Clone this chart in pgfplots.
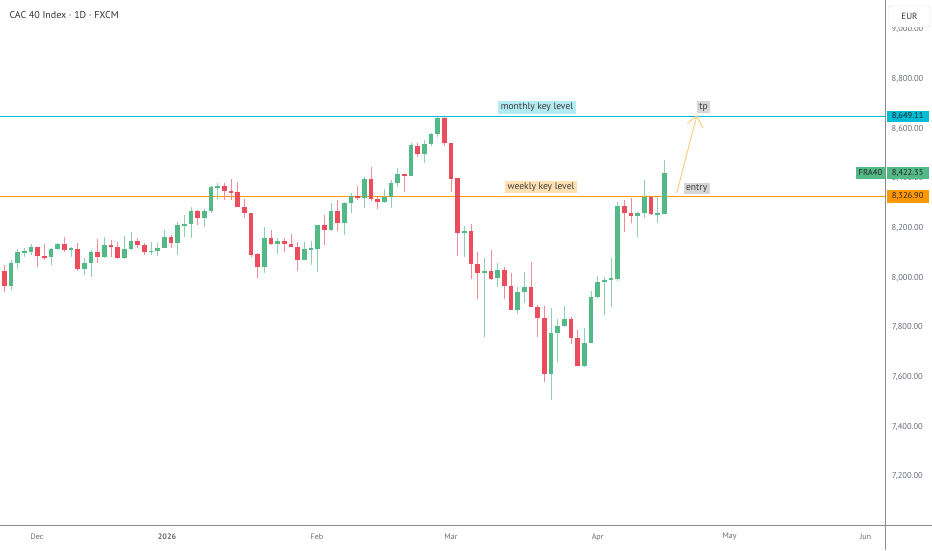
\documentclass[border=0pt]{standalone}
\usepackage{fontspec}
\setmainfont{PT Sans}
\usepackage{pgfplots}
\pgfplotsset{compat=1.18}
\usepackage{pgfplotstable}
\definecolor{upc}{HTML}{53B987}
\definecolor{dnc}{HTML}{EB4D5C}
\definecolor{cyanl}{HTML}{00BCD4}
\definecolor{orangel}{HTML}{FF9800}
\definecolor{cyanbg}{HTML}{B2EBF2}
\definecolor{orangebg}{HTML}{FFE0B2}
\definecolor{graybox}{HTML}{D6D6D6}
\definecolor{arrowc}{HTML}{FFCC80}
\definecolor{labgray}{HTML}{6A6D78}
\definecolor{txtdark}{HTML}{3A3A3A}
\definecolor{border}{HTML}{8A8A8A}
\colorlet{upw}{upc!65!white}
\colorlet{dnw}{dnc!65!white}

\pgfplotstableread{
k o h l c
2 7967 8071 7951 8061
3 8058 8114 8034 8104
4 8102 8118 8085 8108
5 8105 8134 8092 8122
8 8082 8118 8051 8114
9 8114 8138 8112 8134
11 8115 8125 8082 8118
13 8034 8078 8011 8058
14 8058 8112 8002 8105
16 8082 8163 8078 8132
19 8078 8168 8076 8116
20 8116 8185 8112 8149
23 8105 8145 8092 8109
24 8108 8138 8089 8121
25 8121 8192 8118 8165
27 8141 8226 8092 8212
28 8212 8252 8163 8216
29 8216 8283 8159 8270
31 8239 8275 8203 8270
32 8270 8369 8262 8367
33 8363 8380 8316 8369
40 8042 8203 8018 8159
42 8136 8159 8096 8149
46 8071 8145 8071 8116
47 8115 8147 8051 8119
48 8116 8212 8024 8212
50 8192 8302 8189 8269
52 8222 8306 8172 8299
53 8299 8340 8259 8330
55 8320 8404 8279 8397
58 8303 8356 8299 8324
59 8324 8393 8279 8383
60 8383 8440 8364 8417
62 8411 8541 8411 8534
64 8498 8554 8463 8538
65 8538 8581 8530 8578
66 8578 8648 8565 8641
70 8181 8208 8085 8188
73 8018 8078 7763 8027
75 7998 8058 7964 8031
78 7870 7964 7854 7944
79 7944 8022 7897 7964
83 7613 7877 7508 7779
84 7779 7833 7662 7806
85 7806 7886 7800 7833
88 7646 7796 7642 7739
89 7739 7948 7736 7921
90 7921 8007 7917 7984
91 7984 8004 7850 7991
92 7991 8078 7884 7998
93 7995 8306 7985 8290
96 8250 8266 8165 8262
97 8262 8393 8239 8326
99 8256 8326 8222 8260
100 8256 8474 8256 8422.35
}\up

\pgfplotstableread{
k o h l c
1 8027 8051 7944 7967
6 8122 8125 8045 8088
7 8088 8134 8071 8081
10 8134 8163 8105 8112
12 8116 8138 8028 8034
15 8105 8155 8058 8082
17 8132 8152 8085 8122
18 8122 8145 8076 8078
21 8149 8159 8118 8132
22 8132 8138 8092 8102
26 8165 8172 8118 8138
30 8270 8273 8212 8239
34 8369 8380 8313 8350
35 8350 8397 8313 8344
36 8344 8384 8283 8286
37 8286 8316 8239 8262
38 8262 8262 8085 8092
39 8094 8098 7998 8042
41 8159 8192 8132 8136
43 8149 8159 8105 8136
44 8136 8176 8125 8125
45 8125 8145 8028 8071
49 8212 8253 8132 8192
51 8269 8313 8189 8222
54 8330 8369 8313 8320
56 8397 8447 8310 8316
57 8317 8326 8275 8303
61 8417 8417 8346 8411
63 8531 8541 8485 8498
67 8641 8648 8530 8541
68 8541 8541 8346 8397
69 8400 8400 8089 8181
71 8189 8216 7995 8054
72 8054 8105 7913 8018
74 8028 8112 7991 7994
76 8031 8045 7913 7967
77 7967 8018 7870 7870
80 7964 8065 7881 7884
81 7884 7890 7763 7837
82 7837 7886 7582 7613
86 7833 7843 7733 7756
87 7756 7790 7646 7646
94 8290 8313 8185 8262
95 8262 8320 8222 8250
98 8326 8326 8252 8255
}\dn

\pgfplotsset{
  candle/.style 2 args={draw=none, mark=none, forget plot,
    error bars/.cd, y dir=both, y explicit, error mark=none,
    error bar style={line width=#1, draw=#2, solid}},
}

\begin{document}
\begin{tikzpicture}[x=1pt,y=1pt]
\path[use as bounding box, fill=white] (0pt,0pt) rectangle (932pt,550pt);
\begin{axis}[
  at={(0pt,25pt)}, anchor=south west,
  width=885pt, height=525pt, scale only axis,
  xmin=0.35, xmax=133.1, ymin=7005, ymax=9117.6,
  axis line style={draw=none}, major tick length=0pt,
  clip=false,
  xtick={5.9,25.4,47.9,68.0,90.0,109.8,130.2},
  xticklabels={Dec,\textbf{2026},Feb,Mar,Apr,May,Jun},
  xticklabel style={anchor=center, yshift=-12pt, font=\fontsize{8}{9}\selectfont, text=labgray},
  ytick={7200,7400,...,9000},
  yticklabel pos=right,
  yticklabel style={anchor=center, xshift=22.5pt, font=\fontsize{8.5}{10}\selectfont, text=labgray},
  yticklabel={\pgfmathprintnumber[fixed,fixed zerofill,precision=2,1000 sep={,},assume math mode=true]{\tick}},
]
% key levels
\addplot[draw=cyanl, line width=1.2pt, mark=none, forget plot] coordinates {(0.35,8649.11) (133.1,8649.11)};
\addplot[draw=orangel, line width=1.2pt, mark=none, forget plot] coordinates {(0.35,8326.90) (133.1,8326.90)};
% wicks
\addplot[candle={1pt}{upw}]
  table[x=k, y expr={(\thisrow{h}+\thisrow{l})/2}, y error expr={(\thisrow{h}-\thisrow{l})/2}]{\up};
\addplot[candle={1pt}{dnw}]
  table[x=k, y expr={(\thisrow{h}+\thisrow{l})/2}, y error expr={(\thisrow{h}-\thisrow{l})/2}]{\dn};
% bodies
\addplot[candle={4.6pt}{upc}]
  table[x=k, y expr={(\thisrow{o}+\thisrow{c})/2}, y error expr={max(abs(\thisrow{c}-\thisrow{o})/2,2.5)}]{\up};
\addplot[candle={4.6pt}{dnc}]
  table[x=k, y expr={(\thisrow{o}+\thisrow{c})/2}, y error expr={max(abs(\thisrow{c}-\thisrow{o})/2,2.5)}]{\dn};
% arrow
\addplot[draw=arrowc, line width=1pt, mark=none, forget plot] coordinates {(101.85,8339.8) (104.85,8650.8)};
\addplot[draw=arrowc, line width=1pt, mark=none, forget plot] coordinates {(103.44,8621.5) (104.85,8650.8) (105.84,8601.3)};
% text labels
\node[fill=cyanbg, text=txtdark, inner xsep=2.5pt, inner ysep=1.8pt, font=\fontsize{9.6}{11}\selectfont] at (axis cs:80.9,8685) {monthly key level};
\node[fill=orangebg, text=txtdark, inner xsep=2.5pt, inner ysep=1.8pt, font=\fontsize{9.6}{11}\selectfont] at (axis cs:81.5,8366) {weekly key level};
\node[fill=graybox, text=txtdark, inner xsep=2.5pt, inner ysep=2.2pt, font=\fontsize{9.6}{11}\selectfont] at (axis cs:105.9,8686) {tp};
\node[fill=graybox, text=txtdark, inner xsep=2.5pt, inner ysep=1.8pt, font=\fontsize{9.6}{11}\selectfont] at (axis cs:104.85,8359) {entry};
% price labels on the right scale
\node[fill=cyanl, text=black!85, minimum width=42pt, minimum height=11pt, inner sep=0pt, font=\fontsize{8.5}{10}\selectfont] at (axis cs:136.5,8649.11) {8,649.11};
\node[fill=upc, text=black!85, minimum width=42pt, minimum height=12pt, inner sep=0pt, font=\fontsize{8.5}{10}\selectfont] at (axis cs:136.5,8422.35) {8,422.35};
\node[fill=upc, text=black!85, minimum width=29pt, minimum height=12pt, inner sep=0pt, font=\fontsize{8.5}{10}\selectfont] at (axis cs:130.92,8422.35) {FRA40};
\node[fill=orangel, text=black!85, minimum width=42pt, minimum height=13pt, inner sep=0pt, font=\fontsize{8.5}{10}\selectfont] at (axis cs:136.5,8326.90) {8,326.90};
\end{axis}
% frame lines
\draw[border, line width=0.8pt] (885.5pt,0pt) -- (885.5pt,550pt);
\draw[border, line width=0.8pt] (0pt,25pt) -- (932pt,25pt);
% currency box
\draw[fill=white, draw=black!12, rounded corners=2pt] (889pt,523pt) rectangle (930pt,544pt);
\node[text=txtdark, font=\fontsize{9}{10}\selectfont] at (909.5pt,533.5pt) {EUR};
% title
\node[anchor=west, text=black!80, font=\fontsize{10}{12}\selectfont] at (6pt,535pt) {CAC 40 Index · 1D · FXCM};
\end{tikzpicture}
\end{document}
